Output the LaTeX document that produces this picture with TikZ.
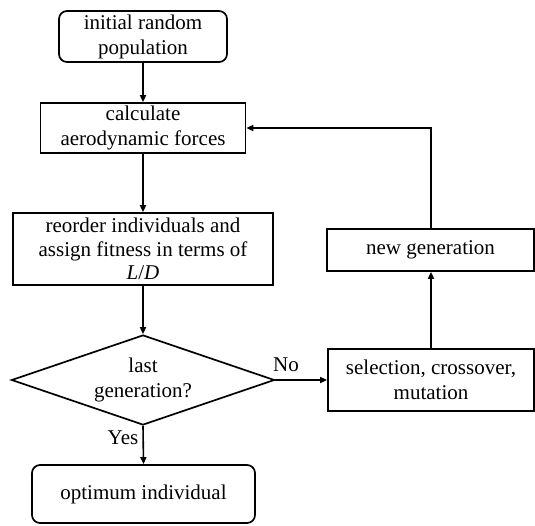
\documentclass[tikz,border=0pt]{standalone}
\usepackage{fontspec}
\setmainfont{Liberation Serif}
\usetikzlibrary{shapes.geometric,arrows.meta}
\begin{document}
\begin{tikzpicture}[x=1pt,y=-1pt,
  every node/.style={font=\rmfamily\fontsize{21}{25}\selectfont},
  box/.style={draw,line width=1.7pt,inner sep=0pt,align=center},
  rbox/.style={box,rounded corners=8pt},
  dec/.style={draw,line width=1.7pt,diamond,aspect=2.92,inner sep=0pt,align=center},
  arr/.style={line width=1.6pt,-{Triangle[length=7pt,width=6pt]}},
  lbl/.style={inner sep=0pt}]
\useasboundingbox (0,0) rectangle (535,525);
\node[rbox,minimum width=168pt,minimum height=51pt] (b1) at (143,36.5) {initial random\\population};
\node[box,minimum width=205pt,minimum height=50pt] (b2) at (143,128) {calculate\\aerodynamic forces};
\node[box,minimum width=260pt,minimum height=72pt,font=\rmfamily\fontsize{21}{23.5}\selectfont] (b3) at (143,249) {reorder individuals and\\assign fitness in terms of\\\textit{L}/\textit{D}};
\node[dec,minimum width=263pt,minimum height=90pt] (d) at (143,380) {last\\generation?};
\node[box,minimum width=206pt,minimum height=62pt] (sel) at (431,380) {selection, crossover,\\mutation};
\node[box,minimum width=207pt,minimum height=42pt] (ng) at (430.5,250) {new generation};
\node[rbox,minimum width=223pt,minimum height=58pt] (opt) at (143.5,494) {optimum individual};
\node[lbl] (no) at (286,365) {No};
\node[lbl] (yes) at (123,438) {Yes};
\draw[arr] (b1) -- (b2);
\draw[arr] (b2) -- (b3);
\draw[arr] (b3) -- (d);
\draw[arr] (d.east) -- (sel.west);
\draw[arr] (d.south) -- (opt.north);
\draw[arr] (sel.north) -- (ng.south -| sel.north);
\draw[arr] (ng.north -| sel.north) |- (b2.east);
\end{tikzpicture}
\end{document}
